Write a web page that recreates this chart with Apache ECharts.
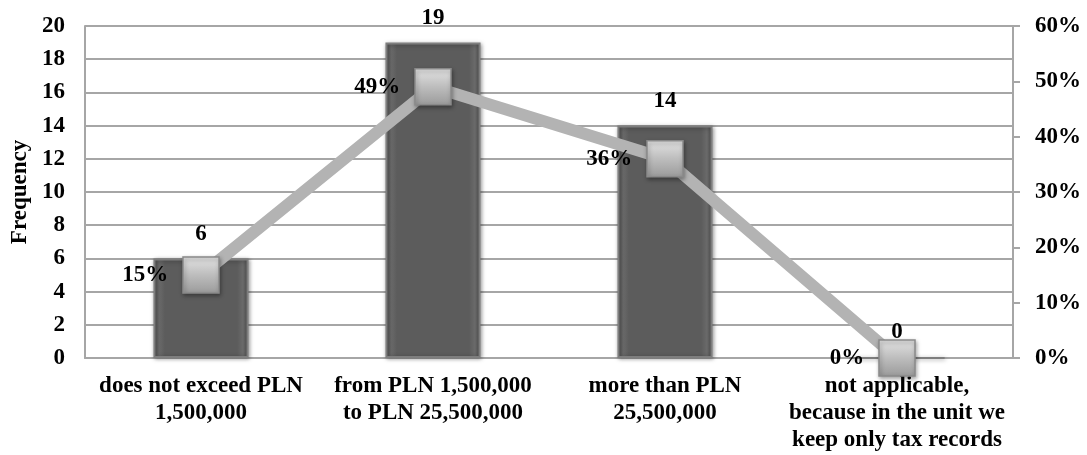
<!DOCTYPE html>
<html>
<head>
<meta charset="utf-8">
<script src="https://cdn.jsdelivr.net/npm/echarts@6/dist/echarts.min.js"></script>
<style>
  html, body { margin: 0; padding: 0; background: #fff; }
  #chart { width: 1087px; height: 455px; }
</style>
</head>
<body>
<div id="chart"></div>
<script>
// Turnover bands and how many respondents fall in each
const categories = [
  'does not exceed PLN\n1,500,000',
  'from PLN 1,500,000\nto PLN 25,500,000',
  'more than PLN\n25,500,000',
  'not applicable,\nbecause in the unit we\nkeep only tax records'
];
const frequency = [6, 19, 14, 0];
// Share of respondents per band, in percent
const share = [15, 49, 36, 0];
const leftTicks = { min: 0, max: 20, interval: 2 };
const rightTicks = { min: 0, max: 60, interval: 10 };

const FONT = "'Liberation Serif', 'Times New Roman', serif";
const GRID_GRAY = '#a6a6a6';

const chart = echarts.init(document.getElementById('chart'), null, { renderer: 'canvas' });

const textBase = { fontFamily: FONT, fontWeight: 'bold', color: '#000', fontSize: 23 };

chart.setOption({
  animation: false,
  grid: { left: 85, right: 74, top: 26, bottom: 97, containLabel: false },
  xAxis: {
    type: 'category',
    data: categories,
    axisLine: { show: true, lineStyle: { color: GRID_GRAY, width: 2 } },
    axisTick: { show: false },
    axisLabel: Object.assign({}, textBase, { margin: 15, lineHeight: 27, interval: 0 })
  },
  yAxis: [
    {
      type: 'value',
      min: leftTicks.min, max: leftTicks.max, interval: leftTicks.interval,
      name: 'Frequency',
      nameLocation: 'middle',
      nameGap: 49,
      nameRotate: 90,
      nameTextStyle: Object.assign({}, textBase),
      axisLine: { show: true, lineStyle: { color: GRID_GRAY, width: 2 } },
      axisTick: { show: false },
      axisLabel: Object.assign({}, textBase, { margin: 20 }),
      splitLine: { show: true, lineStyle: { color: GRID_GRAY, width: 2 } }
    },
    {
      type: 'value',
      position: 'right',
      min: rightTicks.min, max: rightTicks.max, interval: rightTicks.interval,
      axisLine: { show: true, lineStyle: { color: GRID_GRAY, width: 2 } },
      axisTick: { show: true, length: 7, lineStyle: { color: GRID_GRAY, width: 2 } },
      axisLabel: Object.assign({}, textBase, { margin: 22, formatter: '{value}%' }),
      splitLine: { show: false }
    }
  ],
  series: [
    {
      type: 'bar',
      yAxisIndex: 0,
      data: frequency,
      barWidth: '41%',
      itemStyle: {
        color: {
          type: 'linear', x: 0, y: 0, x2: 1, y2: 0,
          colorStops: [
            { offset: 0, color: '#4e4e4e' },
            { offset: 0.06, color: '#6a6a6a' },
            { offset: 0.12, color: '#5c5c5c' },
            { offset: 0.88, color: '#5c5c5c' },
            { offset: 0.94, color: '#6a6a6a' },
            { offset: 1, color: '#4e4e4e' }
          ]
        },
        borderColor: '#7e7e7e',
        borderWidth: 2,
        shadowColor: 'rgba(0,0,0,0.35)',
        shadowBlur: 4,
        shadowOffsetX: 1,
        shadowOffsetY: 1
      },
      label: Object.assign({ show: true, position: 'top', distance: 13 }, textBase)
    },
    {
      type: 'line',
      yAxisIndex: 1,
      data: share,
      z: 5,
      lineStyle: { color: '#b3b3b3', width: 12 },
      symbol: 'rect',
      symbolSize: 36,
      itemStyle: {
        color: {
          type: 'linear', x: 0, y: 0, x2: 0, y2: 1,
          colorStops: [
            { offset: 0, color: '#e4e4e4' },
            { offset: 0.5, color: '#bdbdbd' },
            { offset: 1, color: '#9a9a9a' }
          ]
        },
        borderColor: '#8a8a8a',
        borderWidth: 1.5,
        shadowColor: 'rgba(0,0,0,0.35)',
        shadowBlur: 4,
        shadowOffsetX: 1,
        shadowOffsetY: 2
      },
      label: Object.assign({ show: true, position: 'left', distance: 14, formatter: '{c}%' }, textBase)
    }
  ]
});
</script>
</body>
</html>
